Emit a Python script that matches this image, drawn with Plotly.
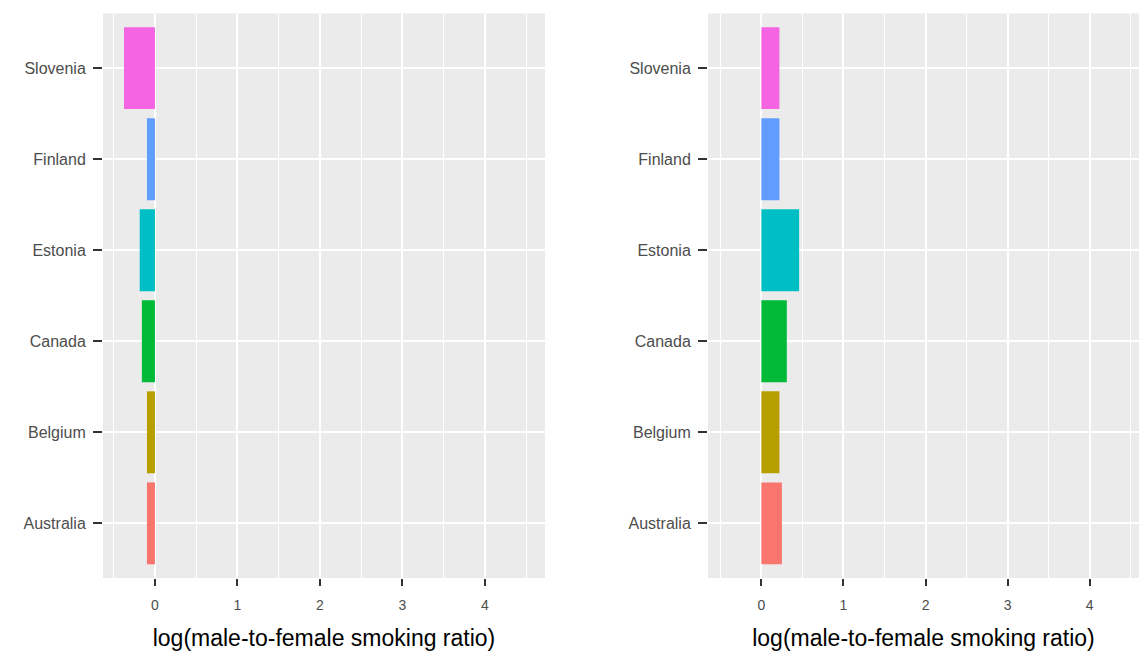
import plotly.graph_objects as go

countries = ["Australia", "Belgium", "Canada", "Estonia", "Finland", "Slovenia"]
colors = ["#F8766D", "#B79F00", "#00BA38", "#00BFC4", "#619CFF", "#F564E3"]
left_values = [-0.097, -0.097, -0.159, -0.185, -0.097, -0.375]
right_values = [0.25, 0.22, 0.31, 0.46, 0.22, 0.22]
x_ticks = [0, 1, 2, 3, 4]
x_title = "log(male-to-female smoking ratio)"

W, H = 1139, 652
fig = go.Figure()
fig.add_trace(go.Bar(y=countries, x=left_values, orientation="h", width=0.9,
                     marker=dict(color=colors, line=dict(width=0)),
                     xaxis="x", yaxis="y", showlegend=False))
fig.add_trace(go.Bar(y=countries, x=right_values, orientation="h", width=0.9,
                     marker=dict(color=colors, line=dict(width=0)),
                     xaxis="x2", yaxis="y2", showlegend=False))

ydom = [1 - 578 / H, 1 - 13.5 / H]
tickfont = dict(family="Liberation Sans", size=14, color="#4D4D4D")
titlefont = dict(family="Liberation Sans", size=23, color="#000000")

def xaxis(dom, rng, anchor):
    return dict(domain=dom, range=rng, anchor=anchor, tickvals=x_ticks,
                ticktext=[str(t) for t in x_ticks],
                showgrid=True, gridcolor="white", gridwidth=2,
                minor=dict(dtick=0.5, tick0=0.5, showgrid=True, gridcolor="white", gridwidth=1.2),
                zeroline=False, showline=False,
                ticks="outside", ticklen=7, tickwidth=2, tickcolor="#333333",
                tickfont=tickfont, ticklabelstandoff=7,
                title=dict(text=x_title, font=titlefont, standoff=18))

def yaxis(anchor):
    return dict(domain=ydom, anchor=anchor, type="category",
                categoryorder="array", categoryarray=countries,
                range=[-0.6, 5.6],
                showgrid=True, gridcolor="white", gridwidth=2,
                zeroline=False, showline=False,
                ticks="outside", ticklen=9, tickwidth=2, tickcolor="#333333",
                tickfont=dict(family="Liberation Sans", size=16, color="#4D4D4D"),
                ticklabelstandoff=4)

fig.update_layout(
    width=W, height=H,
    margin=dict(l=0, r=0, t=0, b=0),
    paper_bgcolor="white", plot_bgcolor="#EBEBEB",
    xaxis=xaxis([103 / W, 545 / W], [-0.63, 4.73], "y"),
    yaxis=yaxis("x"),
    xaxis2=xaxis([708 / W, 1.0], [-0.65, 4.6], "y2"),
    yaxis2=yaxis("x2"),
    bargap=0.1,
)

fig.write_html("out.html", config={"displayModeBar": False},
               post_script="document.body.style.margin='0';")
